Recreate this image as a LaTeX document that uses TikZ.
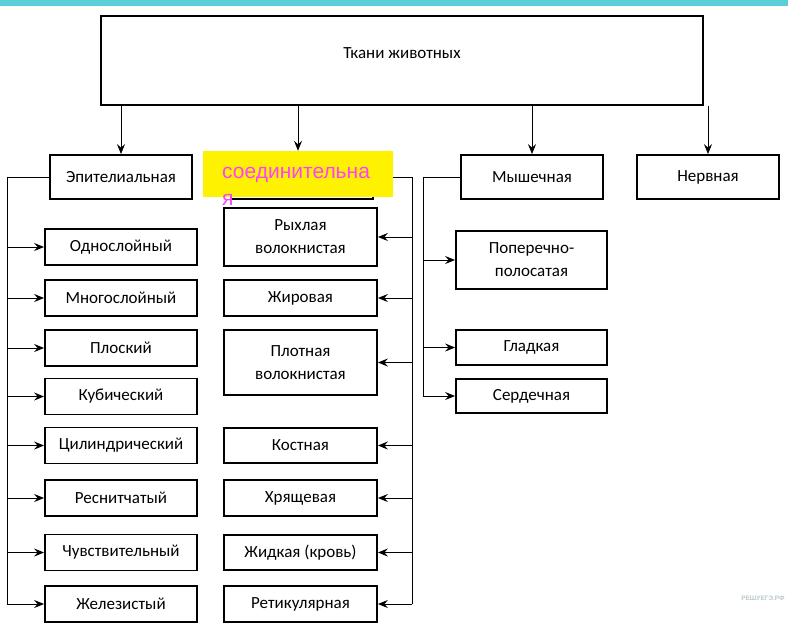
\documentclass[tikz,border=0pt]{standalone}
\usepackage{fontspec}
\setmainfont{Carlito}
\newfontfamily\yellowfont{Liberation Sans}
\usetikzlibrary{arrows.meta}
\definecolor{stripteal}{RGB}{91,207,217}
\definecolor{labelpink}{RGB}{255,64,255}
\definecolor{markgray}{RGB}{184,200,204}
\tikzstyle{tbox} = [draw=black, line width=1.8pt, inner sep=0pt, align=center, font=\fontsize{17}{23}\selectfont]
\tikzstyle{lvlone} = [tbox, minimum width=142pt, minimum height=44pt]
\tikzstyle{epsub} = [tbox, minimum width=152pt, minimum height=36pt]
\tikzstyle{cnsub} = [tbox, minimum width=153pt, minimum height=36pt]
\tikzstyle{mssub} = [tbox, minimum width=151pt, minimum height=35pt]
\tikzstyle{wire} = [line width=1pt, -{Stealth[length=10pt,width=8pt,inset=3.5pt]}]
\tikzstyle{bus} = [line width=1pt]

\begin{document}
\begin{tikzpicture}[x=1pt, y=-1pt]
\useasboundingbox (0,0) rectangle (788,627);
\fill[stripteal] (0,0) rectangle (788,6);

% Define nodes
\node[tbox, minimum width=602pt, minimum height=89pt] (top) at (402,60.5) {};
\node[font=\fontsize{17}{20}\selectfont] (toptext) at ([yshift=7.5pt]top.center) {Ткани животных};

\node[lvlone] (epi)     at (121,177) {Эпителиальная};
\node[lvlone] (connbox) at (302,177) {};
\node[lvlone] (musc)    at (532,177) {Мышечная};
\node[lvlone] (nerv)    at (708,177) {Нервная};

% epithelial
\node[epsub] (one)   at (121,247)   {Однослойный};
\node[epsub] (multi) at (121,298)   {Многослойный};
\node[epsub] (flat)  at (121,348)   {Плоский};
\node[epsub] (cube)  at (121,396.5) {Кубический};
\node[epsub] (cyl)   at (121,445.5) {Цилиндрический};
\node[epsub] (cil)   at (121,498)   {Реснитчатый};
\node[epsub] (sens)  at (121,552.5) {Чувствительный};
\node[epsub] (gland) at (121,604)   {Железистый};

% connective
\node[cnsub, minimum height=58pt] (loose) at (300.5,237)   {Рыхлая\\волокнистая};
\node[cnsub]                      (fat)   at (300.5,298)   {Жировая};
\node[cnsub, minimum height=65pt] (dense) at (300.5,362.5) {Плотная\\волокнистая};
\node[cnsub, minimum height=35pt] (bone)  at (300.5,445.5) {Костная};
\node[cnsub]                      (cart)  at (300.5,498)   {Хрящевая};
\node[cnsub, minimum height=35pt] (blood) at (300.5,552.5) {Жидкая (кровь)};
\node[cnsub]                      (ret)   at (300.5,604)   {Ретикулярная};

% muscle
\node[mssub, minimum height=58pt] (stri)   at (531.5,260)   {Поперечно-\\полосатая};
\node[mssub]                      (smooth) at (531.5,347.5) {Гладкая};
\node[mssub, minimum height=34pt] (heart)  at (531.5,396)   {Сердечная};

% bus coordinates
\coordinate (ebus) at (7,177);
\coordinate (cbus) at (412,177);
\coordinate (mbus) at (423,177);

% Edges
\foreach \t in {epi, musc, nerv}
  \draw[wire] (top.south -| \t.north) -- (\t.north);
\draw[bus] (epi.west) -- (ebus) -- (ebus |- gland.west);
\foreach \t in {one, multi, flat, cube, cyl, cil, sens, gland}
  \draw[wire] (ebus |- \t.west) -- (\t.west);
\draw[bus] (connbox.east) -- (cbus) -- (cbus |- ret.east);
\foreach \t in {loose, fat, dense, bone, cart, blood, ret}
  \draw[wire] (cbus |- \t.east) -- (\t.east);
\draw[bus] (musc.west) -- (mbus) -- (mbus |- heart.west);
\foreach \t in {stri, smooth, heart}
  \draw[wire] (mbus |- \t.west) -- (\t.west);

% yellow label over the connective box
\node[fill=yellow, minimum width=190pt, minimum height=46pt, inner sep=0pt] (conn) at (298,174) {};
\draw[wire] (top.south -| conn.north) -- (conn.north);
\node[anchor=base west, inner sep=0pt, text=labelpink, font=\yellowfont\fontsize{21}{27}\selectfont] (conntext) at (222,178) {соединительна};
\node[anchor=base west, inner sep=0pt, text=labelpink, font=\yellowfont\fontsize{21}{27}\selectfont] (conntail) at (222,205) {я};

\node[text=markgray, font=\yellowfont\bfseries\fontsize{6.5}{7}\selectfont, inner sep=0pt] (mark) at (763,598) {РЕШУЕГЭ.РФ};
\end{tikzpicture}
\end{document}
